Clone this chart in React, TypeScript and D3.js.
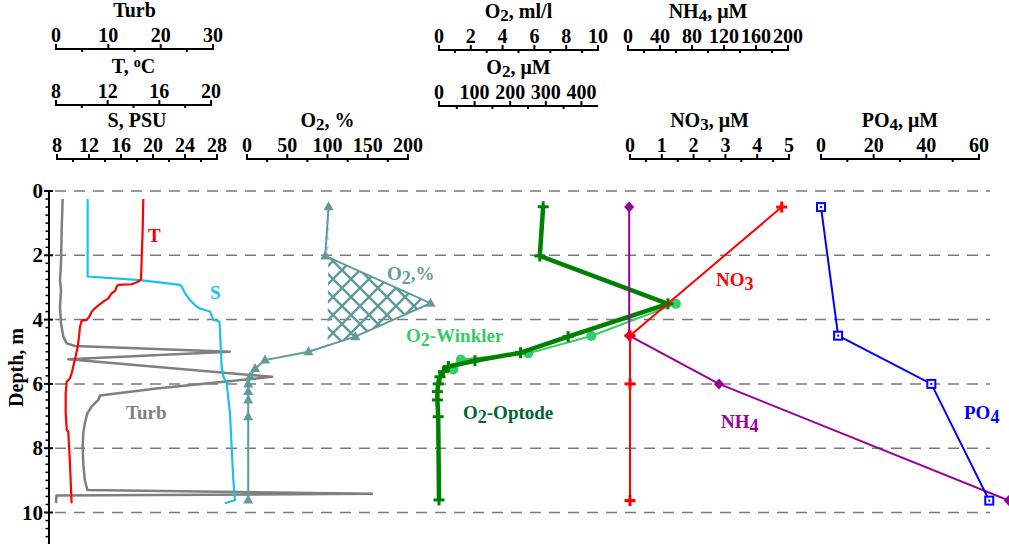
import React from 'react';
import * as d3 from 'd3';

const W = 1009;
const H = 544;

// ---- data: [value, depth m] ----
const tempProfile: [number, number][] = [[14.76,0.25],[14.71,1.21],[14.63,2.15],[14.58,2.75],[14.37,2.82],[13.86,2.90],[12.82,2.92],[12.70,2.97],[12.57,3.11],[12.31,3.18],[12.05,3.34],[11.66,3.44],[11.15,3.60],[10.76,3.75],[10.58,3.91],[10.37,4.01],[9.99,4.03],[9.86,4.22],[9.78,4.53],[9.68,4.84],[9.52,5.15],[9.34,5.46],[9.21,5.67],[9.08,5.83],[8.83,5.93],[8.75,6.29],[8.75,6.9],[8.83,7.43],[8.95,7.48],[9.08,8.47],[9.21,9.71]];
const salProfile: [number, number][] = [[11.83,0.25],[11.83,2.66],[18.37,2.77],[23.37,2.92],[23.58,2.97],[24.0,3.18],[24.62,3.39],[25.25,3.55],[25.79,3.65],[27.12,3.75],[27.54,4.01],[28.29,4.06],[28.37,4.32],[28.46,4.84],[28.58,5.46],[28.79,5.77],[29.21,5.98],[29.62,6.91],[29.83,7.95],[30.04,8.99],[30.25,9.61],[29.0,9.71]];
const turbProfile: [number, number][] = [[1.27,0.25],[1.08,1.21],[0.96,2.25],[0.76,2.77],[0.96,3.08],[0.76,3.6],[0.96,4.12],[1.4,4.53],[2.04,4.74],[3.63,4.82],[33.2,5.0],[2.36,5.23],[41.3,5.78],[19.2,6.14],[8.4,6.36],[8.1,6.5],[6.8,6.71],[6.0,6.91],[5.5,7.23],[5.2,7.54],[5.1,7.95],[5.2,8.47],[5.5,8.99],[6.0,9.3],[60.4,9.42],[0.1,9.47],[0.0,9.71]];
const o2PctData: [number, number][] = [[101.3,0.49],[97.2,2.02],[228,3.49],[134.6,4.53],[76.4,5.0],[22.4,5.26],[10,5.52],[3.7,5.78],[1.5,6.0],[1.5,6.24],[1.5,6.5],[1.5,7.02],[1.5,9.61]];
const optodeData: [number, number][] = [[6.55,0.49],[6.34,2.02],[14.4,3.51],[8.12,4.53],[5.13,5.03],[2.26,5.28],[0.59,5.46],[0.27,5.62],[0.06,5.78],[-0.05,6.0],[-0.1,6.24],[-0.1,6.5],[-0.05,7.02],[0.0,9.61]];
const winklerData: [number, number][] = [[14.9,3.51],[9.58,4.51],[5.61,5.05],[1.38,5.24],[0.9,5.55]];
const no3Data: [number, number][] = [[4.77,0.5],[0.0,4.5],[0.0,6.0],[0.0,9.63]];
const nh4Data: [number, number][] = [[1.5,0.5],[1.5,4.5],[113.7,6.0],[476,9.63]];
const po4Data: [number, number][] = [[0.0,0.5],[6.5,4.5],[41.9,6.0],[63.9,9.63]];

const depthTicks = [0, 2, 4, 6, 8, 10];

// ---- scales ----
const yDepth = d3.scaleLinear().domain([0, 10]).range([191, 512.5]);
const xTurb = d3.scaleLinear().domain([0, 30]).range([56, 213]);
const xT = d3.scaleLinear().domain([8, 20]).range([56, 211]);
const xS = d3.scaleLinear().domain([8, 28]).range([57, 217]);
const xPct = d3.scaleLinear().domain([0, 200]).range([247, 408]);
const xMl = d3.scaleLinear().domain([0, 10]).range([439, 598]);
const xUm = d3.scaleLinear().domain([0, 446.6]).range([439, 598]);
const xNH4 = d3.scaleLinear().domain([0, 200]).range([628, 788]);
const xNO3 = d3.scaleLinear().domain([0, 5]).range([630, 789]);
const xPO4 = d3.scaleLinear().domain([0, 60]).range([821, 979]);

type Seg = { t: string; sub?: boolean; sup?: boolean };
interface TopAxis { title: Seg[]; scale: d3.ScaleLinear<number, number>; ticks: number[]; minor: number[]; y: number }

const topAxes: TopAxis[] = [
  { title: [{ t: 'Turb' }], scale: xTurb, ticks: [0, 10, 20, 30], minor: [5, 15, 25], y: 49 },
  { title: [{ t: 'T, ' }, { t: 'o', sup: true }, { t: 'C' }], scale: xT, ticks: [8, 12, 16, 20], minor: [10, 14, 18], y: 105 },
  { title: [{ t: 'S, PSU' }], scale: xS, ticks: [8, 12, 16, 20, 24, 28], minor: [10, 14, 18, 22, 26], y: 159 },
  { title: [{ t: 'O' }, { t: '2', sub: true }, { t: ', %' }], scale: xPct, ticks: [0, 50, 100, 150, 200], minor: [25, 75, 125, 175], y: 159 },
  { title: [{ t: 'O' }, { t: '2', sub: true }, { t: ', ml/l' }], scale: xMl, ticks: [0, 2, 4, 6, 8, 10], minor: [1, 3, 5, 7, 9], y: 50 },
  { title: [{ t: 'O' }, { t: '2', sub: true }, { t: ', μM' }], scale: xUm, ticks: [0, 100, 200, 300, 400], minor: [50, 150, 250, 350], y: 106 },
  { title: [{ t: 'NH' }, { t: '4', sub: true }, { t: ', μM' }], scale: xNH4, ticks: [0, 40, 80, 120, 160, 200], minor: [20, 60, 100, 140, 180], y: 50 },
  { title: [{ t: 'NO' }, { t: '3', sub: true }, { t: ', μM' }], scale: xNO3, ticks: [0, 1, 2, 3, 4, 5], minor: [0.5, 1.5, 2.5, 3.5, 4.5], y: 159 },
  { title: [{ t: 'PO' }, { t: '4', sub: true }, { t: ', μM' }], scale: xPO4, ticks: [0, 20, 40, 60], minor: [10, 30, 50], y: 159 },
];

const FONT = '"Liberation Serif", "Times New Roman", serif';

function RichText({ segs, x, y, anchor = 'start', fill = '#000', size = 19, subDy = 4, subScale = 0.95 }: { segs: Seg[]; x: number; y: number; anchor?: string; fill?: string; size?: number; subDy?: number; subScale?: number }) {
  let shift = 0;
  return (
    <text x={x} y={y} textAnchor={anchor as any} fill={fill} fontFamily={FONT} fontWeight="bold" fontSize={size}>
      {segs.map((s, i) => {
        let target = 0;
        let fs = size;
        if (s.sub) { target = subDy; fs = size * subScale; }
        if (s.sup) { target = -6; fs = size * 0.7; }
        const dy = target - shift;
        shift = target;
        return <tspan key={i} dy={dy} fontSize={fs}>{s.t}</tspan>;
      })}
    </text>
  );
}

function lineOf(data: [number, number][], sx: d3.ScaleLinear<number, number>) {
  return d3.line<[number, number]>().x(d => sx(d[0])).y(d => yDepth(d[1]))(data) || '';
}

function hatchPolygon(data: [number, number][], thr: number): [number, number][] {
  const pts: [number, number][] = [];
  for (let i = 0; i < data.length - 1; i++) {
    const [v0, d0] = data[i];
    const [v1, d1] = data[i + 1];
    if (v0 >= thr) pts.push([v0, d0]);
    if ((v0 - thr) * (v1 - thr) < 0) {
      const t = (thr - v0) / (v1 - v0);
      pts.push([thr, d0 + t * (d1 - d0)]);
    }
  }
  return pts;
}

const Tri = ({ x, y, c }: any) => <path d={`M${x},${y - 5.5} L${x + 5},${y + 3.5} L${x - 5},${y + 3.5} Z`} fill={c} />;
const Plus = ({ x, y, c, s = 5.5, w = 3 }: any) => (
  <g stroke={c} strokeWidth={w}>
    <line x1={x - s} x2={x + s} y1={y} y2={y} />
    <line x1={x} x2={x} y1={y - s} y2={y + s} />
  </g>
);
const Diamond = ({ x, y, c }: any) => <path d={`M${x},${y - 5.5} L${x + 5},${y} L${x},${y + 5.5} L${x - 5},${y} Z`} fill={c} />;
const Square = ({ x, y, c }: any) => (
  <g>
    <rect x={x - 4} y={y - 4} width={8} height={8} fill="#fff" stroke={c} strokeWidth={2} />
    <rect x={x - 1} y={y - 1} width={2} height={2} fill={c} />
  </g>
);

export default function App() {
  const hatch = hatchPolygon(o2PctData, 100);
  const hatchPath = d3.line<[number, number]>().x(d => xPct(d[0])).y(d => yDepth(d[1]))(hatch) + 'Z';
  const minorDepth = d3.range(0, 11.01, 0.25).filter(v => Math.abs(v / 2 - Math.round(v / 2)) > 1e-6);
  const teal = '#5f9b9b';
  const green = '#008000';
  const lgreen = '#33cc66';
  return (
    <svg width={W} height={H} style={{ position: 'absolute', left: 0, top: 0, background: '#fff' }}>
      <defs>
        <pattern id="xhatch" patternUnits="userSpaceOnUse" width={18} height={18}>
          <path d="M0,0 L18,18 M18,0 L0,18" stroke={teal} strokeWidth={2.5} />
        </pattern>
      </defs>
      {/* top axes */}
      {topAxes.map((a, i) => {
        const [r0, r1] = a.scale.range();
        return (
          <g key={i}>
            <RichText segs={a.title} x={(r0 + r1) / 2} y={a.y - 32} anchor="middle" size={20} subDy={3} subScale={0.85} />
            <line x1={r0} x2={r1} y1={a.y} y2={a.y} stroke="#000" strokeWidth={2} />
            {a.ticks.map(t => (
              <g key={t}>
                <line x1={a.scale(t)} x2={a.scale(t)} y1={a.y - 5} y2={a.y + 1} stroke="#000" strokeWidth={2} />
                <text x={a.scale(t)} y={a.y - 7} textAnchor="middle" fontFamily={FONT} fontWeight="bold" fontSize={20}>{t}</text>
              </g>
            ))}
            {a.minor.map(t => (
              <line key={'m' + t} x1={a.scale(t)} x2={a.scale(t)} y1={a.y} y2={a.y + 3} stroke="#000" strokeWidth={2} />
            ))}
          </g>
        );
      })}
      {/* grid */}
      {depthTicks.map(d => (
        <line key={d} x1={55} x2={990} y1={yDepth(d)} y2={yDepth(d)} stroke="#7a7a7a" strokeWidth={1.5} strokeDasharray="11,8" />
      ))}
      {/* depth axis */}
      <line x1={49} x2={49} y1={yDepth(0)} y2={H} stroke="#000" strokeWidth={2} />
      {depthTicks.map(d => (
        <g key={d}>
          <line x1={44} x2={53} y1={yDepth(d)} y2={yDepth(d)} stroke="#000" strokeWidth={2} />
          <text x={43} y={yDepth(d) + 7} textAnchor="end" fontFamily={FONT} fontWeight="bold" fontSize={21}>{d}</text>
        </g>
      ))}
      {minorDepth.map(d => (
        <line key={'md' + d} x1={45.5} x2={49} y1={yDepth(d)} y2={yDepth(d)} stroke="#000" strokeWidth={1.5} />
      ))}
      <text transform={`translate(23,${(yDepth(0) + H) / 2}) rotate(-90)`} textAnchor="middle" fontFamily={FONT} fontWeight="bold" fontSize={20}>Depth, m</text>

      {/* hatch */}
      <path d={hatchPath} fill="url(#xhatch)" stroke="none" />

      {/* profiles */}
      <path d={lineOf(turbProfile, xTurb)} fill="none" stroke="#7f7f7f" strokeWidth={2.5} strokeLinejoin="round" />
      <path d={lineOf(salProfile, xS)} fill="none" stroke="#1cc0f0" strokeWidth={2.2} />
      <path d={lineOf(tempProfile, xT)} fill="none" stroke="#ff0000" strokeWidth={2.2} />

      <path d={lineOf(o2PctData, xPct)} fill="none" stroke={teal} strokeWidth={2} />
      {o2PctData.map((d, i) => <Tri key={i} x={xPct(d[0])} y={yDepth(d[1])} c={teal} />)}

      <path d={lineOf(winklerData, xMl)} fill="none" stroke={lgreen} strokeWidth={2} />
      {winklerData.map((d, i) => <circle key={i} cx={xMl(d[0])} cy={yDepth(d[1])} r={5} fill={lgreen} />)}

      <path d={lineOf(optodeData, xMl)} fill="none" stroke={green} strokeWidth={4.5} strokeLinejoin="round" />
      {optodeData.map((d, i) => <Plus key={i} x={xMl(d[0])} y={yDepth(d[1])} c={green} s={5.5} w={3} />)}

      <path d={lineOf(nh4Data, xNH4)} fill="none" stroke="#990099" strokeWidth={2} />
      {nh4Data.map((d, i) => <Diamond key={i} x={xNH4(d[0])} y={yDepth(d[1])} c="#990099" />)}

      <path d={lineOf(no3Data, xNO3)} fill="none" stroke="#ff0000" strokeWidth={2} />
      {no3Data.map((d, i) => <Plus key={i} x={xNO3(d[0])} y={yDepth(d[1])} c="#ff0000" s={5.5} w={3} />)}

      <path d={lineOf(po4Data, xPO4)} fill="none" stroke="#0000ff" strokeWidth={2} />
      {po4Data.map((d, i) => <Square key={i} x={xPO4(d[0])} y={yDepth(d[1])} c="#0000ff" />)}

      {/* series labels */}
      <RichText segs={[{ t: 'T' }]} x={148} y={242} fill="#ff0000" />
      <RichText segs={[{ t: 'S' }]} x={210} y={299} fill="#1cc0f0" />
      <RichText segs={[{ t: 'Turb' }]} x={126} y={419} fill="#7f7f7f" />
      <RichText segs={[{ t: 'O' }, { t: '2', sub: true }, { t: ',%' }]} x={387} y={280} fill={teal} />
      <RichText segs={[{ t: 'O' }, { t: '2', sub: true }, { t: '-Winkler' }]} x={406} y={342} fill={lgreen} />
      <RichText segs={[{ t: 'O' }, { t: '2', sub: true }, { t: '-Optode' }]} x={463} y={419} fill="#006633" />
      <RichText segs={[{ t: 'NO' }, { t: '3', sub: true }]} x={716} y={286} fill="#ff0000" />
      <RichText segs={[{ t: 'NH' }, { t: '4', sub: true }]} x={721} y={428} fill="#990099" />
      <RichText segs={[{ t: 'PO' }, { t: '4', sub: true }]} x={964} y={419} fill="#0000ff" />
    </svg>
  );
}
